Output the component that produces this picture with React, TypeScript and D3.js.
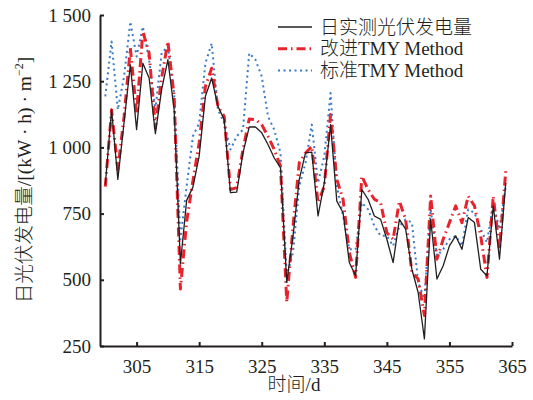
import React, { useEffect, useRef } from 'react';
import * as d3 from 'd3';

// days of year
const days: number[] = d3.range(300, 365);

const measured: number[] = [
  860, 1142, 879, 1095, 1312, 1067, 1318, 1262, 1052, 1218,
  1331, 1142, 560, 800, 850, 967, 1193, 1262, 1155, 1105,
  829, 831, 979, 1077, 1077, 1055, 1011, 960, 923, 490,
  666, 879, 979, 982, 741, 866, 1086, 797, 753, 565,
  515, 841, 804, 741, 728, 653, 565, 728, 691, 540,
  452, 277, 728, 503, 553, 628, 666, 615, 735, 716,
  540, 515, 779, 578, 866,
];

const improved: number[] = [
  852, 1142, 917, 1117, 1375, 1130, 1437, 1356, 1073, 1262,
  1400, 1193, 465, 720, 873, 1017, 1230, 1299, 1155, 1117,
  841, 848, 992, 1107, 1105, 1086, 1042, 992, 929, 415,
  703, 942, 979, 1004, 791, 854, 1124, 879, 804, 603,
  509, 891, 841, 804, 791, 678, 653, 797, 728, 528,
  503, 365, 816, 578, 653, 716, 779, 716, 816, 779,
  666, 509, 816, 615, 910,
];

const standard: number[] = [
  1193, 1400, 1142, 1268, 1475, 1343, 1456, 1331, 1142, 1356,
  1381, 1205, 653, 854, 1042, 1092, 1318, 1393, 1142, 1092,
  992, 1042, 1067, 1356, 1331, 1268, 1117, 1067, 979, 515,
  603, 854, 942, 1086, 866, 967, 1205, 854, 741, 615,
  615, 791, 766, 703, 666, 666, 628, 703, 728, 716,
  490, 430, 766, 591, 615, 653, 666, 628, 766, 753,
  691, 641, 791, 691, 854,
];

const xTicks = [305, 315, 325, 335, 345, 355, 365];
const yTicks = [250, 500, 750, 1000, 1250, 1500];

const seriesNames = ['日实测光伏发电量', '改进TMY Method', '标准TMY Method'];

const FONT = "'Liberation Serif', 'Times New Roman', 'Noto Sans CJK SC', serif";

export default function App() {
  const ref = useRef<SVGSVGElement>(null);
  const width = 533;
  const height = 400;
  const m = { left: 100, right: 512, top: 15, bottom: 346 };

  useEffect(() => {
    const svg = d3.select(ref.current);
    svg.selectAll('*').remove();

    const x = d3.scaleLinear().domain([299.15, 365]).range([m.left, m.right]);
    const y = d3.scaleLinear().domain([250, 1500]).range([m.bottom, m.top]);

    const fmt = (d: d3.NumberValue) => {
      const v = +d;
      return v >= 1000 ? `${Math.floor(v / 1000)} ${String(v % 1000).padStart(3, '0')}` : String(v);
    };

    // axes
    const xAxis = d3.axisBottom(x).tickValues(xTicks).tickSize(-4).tickPadding(10).tickSizeOuter(0);
    const yAxis = d3.axisLeft(y).tickValues(yTicks).tickSize(-4).tickPadding(9).tickFormat(fmt).tickSizeOuter(0);

    const gx = svg.append('g').attr('transform', `translate(0,${m.bottom})`).call(xAxis);
    const gy = svg.append('g').attr('transform', `translate(${m.left},0)`).call(yAxis);
    [gx, gy].forEach(g => {
      g.select('.domain').attr('stroke', '#231f20').attr('stroke-width', 2);
      g.selectAll('.tick line').attr('stroke', '#231f20').attr('stroke-width', 2);
      g.selectAll('.tick text')
        .attr('fill', '#231f20')
        .style('font-family', FONT)
        .style('font-size', '19px');
    });
    gx.selectAll('.tick text').attr('dy', '0.9em');

    // lines
    const line = d3.line<number>()
      .x((_, i) => x(days[i]))
      .y(d => y(d));

    const styles = [
      { data: measured, color: '#231f20', w: 1.3, dash: null },
      { data: improved, color: '#e8232d', w: 3, dash: '9,4,1.5,4' },
      { data: standard, color: '#3b7bc5', w: 2, dash: '2,3.5' },
    ];

    // standard first, then improved, measured on top
    [2, 1, 0].forEach(k => {
      const s = styles[k];
      svg.append('path')
        .datum(s.data)
        .attr('d', line)
        .attr('fill', 'none')
        .attr('stroke', s.color)
        .attr('stroke-width', s.w)
        .attr('stroke-linejoin', 'round')
        .attr('stroke-dasharray', s.dash);
    });

    // legend
    const lg = svg.append('g').attr('transform', 'translate(278,27)');
    seriesNames.forEach((name, i) => {
      const s = styles[i];
      const row = lg.append('g').attr('transform', `translate(0,${i * 21.7})`);
      row.append('line')
        .attr('x1', 0).attr('x2', 34).attr('y1', 0).attr('y2', 0)
        .attr('stroke', s.color).attr('stroke-width', s.w)
        .attr('stroke-dasharray', s.dash);
      row.append('text')
        .attr('x', 42).attr('y', 6.5)
        .attr('fill', '#231f20')
        .style('font-family', FONT)
        .style('font-weight', 300)
        .style('font-size', '19px')
        .text(name);
    });

    // axis titles
    svg.append('text')
      .attr('x', 294).attr('y', 391)
      .attr('text-anchor', 'middle')
      .attr('fill', '#231f20')
      .style('font-family', FONT)
      .style('font-weight', 300)
      .style('font-size', '19px')
      .text('时间/d');

    const yt = svg.append('text')
      .attr('transform', 'translate(31,180) rotate(-90)')
      .attr('text-anchor', 'middle')
      .attr('fill', '#231f20')
      .style('font-family', FONT)
      .style('font-weight', 300)
      .style('font-size', '19.5px');
    yt.append('tspan').text('日光伏发电量/[(kW · h) · m');
    yt.append('tspan').attr('dy', -8).style('font-size', '12px').text('−2');
    yt.append('tspan').attr('dy', 8).text(']');
  }, []);

  return (
    <svg ref={ref} width={width} height={height}
      style={{ position: 'absolute', left: 0, top: 0, background: '#fff' }} />
  );
}
